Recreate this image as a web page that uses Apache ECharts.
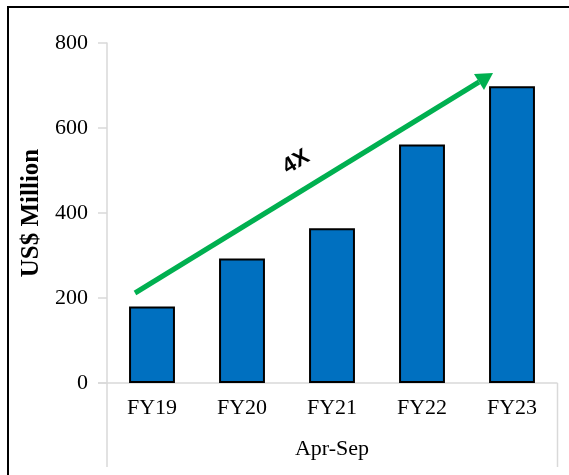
<!DOCTYPE html>
<html>
<head>
<meta charset="utf-8">
<script src="https://cdn.jsdelivr.net/npm/echarts@6/dist/echarts.min.js"></script>
<style>
  html, body { margin: 0; padding: 0; background: #fff; }
  #main { width: 569px; height: 475px; }
</style>
</head>
<body>
<div id="main"></div>
<script>
// data
var categories = ['FY19', 'FY20', 'FY21', 'FY22', 'FY23'];
var revenue = [180, 293, 364, 561, 698];
var yTicks = [0, 200, 400, 600, 800];

var serif = '"Liberation Serif", "Times New Roman", serif';
var gray = '#d9d9d9';

var chart = echarts.init(document.getElementById('main'));

var option = {
  animation: false,
  backgroundColor: '#fff',
  grid: { left: 107, right: 12, top: 43, bottom: 92 },
  xAxis: {
    type: 'category',
    data: categories,
    name: 'Apr-Sep',
    nameLocation: 'middle',
    nameGap: 55,
    nameTextStyle: { fontFamily: serif, fontSize: 22, color: '#000' },
    axisLine: { show: true, lineStyle: { color: gray, width: 1.5 } },
    axisTick: { show: false },
    axisLabel: { fontFamily: serif, fontSize: 22, color: '#000', margin: 14 }
  },
  yAxis: {
    type: 'value',
    min: yTicks[0],
    max: yTicks[yTicks.length - 1],
    interval: 200,
    name: 'US$ Million',
    nameLocation: 'middle',
    nameGap: 58,
    nameTextStyle: { fontFamily: serif, fontSize: 25, fontWeight: 'bold', color: '#000' },
    axisLine: { show: true, lineStyle: { color: gray, width: 1.5 } },
    axisTick: { show: true, length: 9, lineStyle: { color: gray, width: 1.5 } },
    axisLabel: { fontFamily: serif, fontSize: 22, color: '#000', margin: 19 },
    splitLine: { show: false }
  },
  series: [{
    type: 'bar',
    data: revenue,
    barWidth: '51%',
    itemStyle: { color: '#0070C0', borderColor: '#000', borderWidth: 2 }
  }],
  graphic: [
    // outer frame
    { type: 'rect', shape: { x: 8, y: 7, width: 620, height: 520 },
      style: { fill: 'none', stroke: '#000', lineWidth: 2 }, silent: true },
    // category box lines below the axis
    { type: 'line', shape: { x1: 98, y1: 383, x2: 107, y2: 383 }, style: { stroke: gray, lineWidth: 1.5 } },
    { type: 'line', shape: { x1: 107, y1: 383, x2: 107, y2: 467 }, style: { stroke: gray, lineWidth: 1.5 } },
    { type: 'line', shape: { x1: 557.5, y1: 383, x2: 557.5, y2: 467 }, style: { stroke: gray, lineWidth: 1.5 } },
    // growth arrow
    { type: 'line', shape: { x1: 135, y1: 293, x2: 479, y2: 82 },
      style: { stroke: '#00B050', lineWidth: 5 }, z: 100 },
    { type: 'polygon', shape: { points: [[493, 73], [484, 90], [474, 74]] },
      style: { fill: '#00B050' }, z: 100 },
    { type: 'text', x: 296, y: 162, rotation: 0.55, z: 100,
      style: { text: '4X', font: 'bold 22px "Liberation Sans", Arial, sans-serif',
               fill: '#000', align: 'center', verticalAlign: 'middle' } }
  ]
};

chart.setOption(option);
</script>
</body>
</html>
